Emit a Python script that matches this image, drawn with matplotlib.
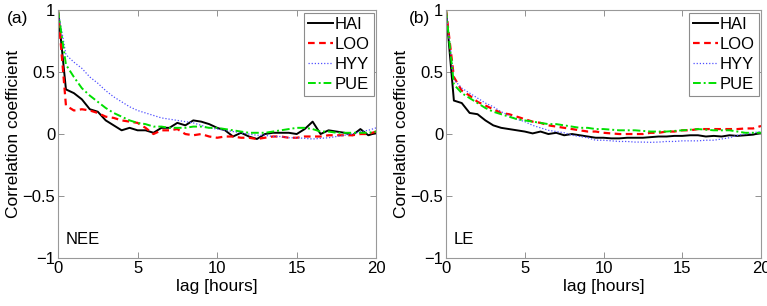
import matplotlib
matplotlib.use("Agg")
import matplotlib.pyplot as plt
import numpy as np

plt.rcParams['font.family'] = ['Liberation Sans', 'DejaVu Sans']
plt.rcParams['font.size'] = 12

# lag in hours (half-hourly)
lag = np.arange(0, 20.01, 0.5)
sites = ["HAI", "LOO", "HYY", "PUE"]

nee_hai = [1.00, 0.36, 0.33, 0.28, 0.20, 0.18, 0.11, 0.07, 0.03, 0.05, 0.03, 0.03, 0.01, 0.05,
           0.05, 0.09, 0.07, 0.11, 0.10, 0.08, 0.05, 0.03, -0.02, 0.01, -0.02, -0.04, 0.00, 0.01,
           0.01, 0.01, 0.00, 0.04, 0.10, 0.00, 0.03, 0.02, 0.01, -0.01, 0.04, -0.01, 0.01]
nee_loo = [1.00, 0.23, 0.19, 0.20, 0.19, 0.17, 0.14, 0.13, 0.11, 0.10, 0.09, 0.05, 0.00, 0.03,
           0.03, 0.04, 0.00, -0.01, 0.00, -0.02, -0.03, -0.02, -0.02, -0.03, -0.03, -0.04, -0.03,
           -0.02, -0.02, -0.03, -0.03, -0.02, -0.02, -0.02, -0.01, -0.01, -0.01, -0.01, 0.00,
           0.00, 0.02]
nee_hyy = [1.00, 0.64, 0.58, 0.53, 0.46, 0.41, 0.35, 0.30, 0.26, 0.22, 0.19, 0.17, 0.15, 0.13,
           0.12, 0.11, 0.10, 0.09, 0.07, 0.05, 0.04, 0.03, 0.02, 0.01, 0.00, -0.01, -0.01, -0.02,
           -0.02, -0.03, -0.03, -0.035, -0.04, -0.035, -0.03, -0.02, -0.01, 0.00, 0.02, 0.03, 0.05]
nee_pue = [1.00, 0.56, 0.46, 0.37, 0.31, 0.26, 0.21, 0.17, 0.14, 0.11, 0.09, 0.08, 0.06, 0.06,
           0.05, 0.05, 0.05, 0.06, 0.06, 0.05, 0.05, 0.04, 0.03, 0.02, 0.01, 0.01, 0.01, 0.02,
           0.03, 0.04, 0.05, 0.05, 0.04, 0.02, 0.02, 0.01, 0.01, 0.01, 0.01, 0.01, 0.02]

le_hai = [1.00, 0.27, 0.25, 0.17, 0.16, 0.11, 0.07, 0.05, 0.04, 0.03, 0.02, 0.005, 0.02, 0.00,
          0.01, -0.01, 0.00, -0.01, -0.02, -0.03, -0.03, -0.035, -0.035, -0.03, -0.03, -0.03,
          -0.025, -0.02, -0.02, -0.015, -0.015, -0.01, -0.01, -0.02, -0.015, -0.02, -0.01,
          -0.015, -0.01, -0.005, 0.01]
le_loo = [1.00, 0.46, 0.35, 0.31, 0.26, 0.23, 0.20, 0.17, 0.16, 0.14, 0.12, 0.10, 0.09, 0.07,
          0.06, 0.05, 0.04, 0.03, 0.02, 0.02, 0.01, 0.005, 0.00, 0.00, 0.00, 0.00, 0.01, 0.01,
          0.02, 0.02, 0.03, 0.03, 0.04, 0.04, 0.04, 0.04, 0.04, 0.04, 0.045, 0.045, 0.065]
le_hyy = [1.00, 0.44, 0.37, 0.33, 0.29, 0.25, 0.22, 0.18, 0.15, 0.12, 0.10, 0.07, 0.05, 0.03,
          0.02, 0.01, -0.01, -0.02, -0.03, -0.05, -0.05, -0.055, -0.06, -0.06, -0.065, -0.065,
          -0.067, -0.065, -0.06, -0.06, -0.055, -0.055, -0.055, -0.05, -0.05, -0.04, -0.03,
          -0.01, 0.00, 0.01, 0.02]
le_pue = [1.00, 0.40, 0.33, 0.29, 0.25, 0.21, 0.18, 0.16, 0.14, 0.12, 0.11, 0.10, 0.09, 0.08,
          0.08, 0.07, 0.06, 0.05, 0.05, 0.04, 0.04, 0.035, 0.03, 0.03, 0.03, 0.025, 0.02, 0.02,
          0.02, 0.025, 0.03, 0.035, 0.04, 0.035, 0.03, 0.03, 0.03, 0.02, 0.01, 0.01, 0.01]

styles = {
    "HAI": dict(color="black", linestyle="-", linewidth=1.4),
    "LOO": dict(color="#ff0000", linestyle=(0, (3, 2)), linewidth=1.6),
    "HYY": dict(color="#5050ff", linestyle=(0, (1, 1.5)), linewidth=0.9),
    "PUE": dict(color="#00e000", linestyle=(0, (4, 1.5, 1, 1.5)), linewidth=1.4),
}

fig = plt.figure(figsize=(7.67, 3.06), dpi=100)
ax_a = fig.add_axes([0.0756, 0.157, 0.415, 0.810])
ax_b = fig.add_axes([0.5815, 0.157, 0.4107, 0.810])

panels = [
    (ax_a, [nee_hai, nee_loo, nee_hyy, nee_pue], "NEE", "(a)", 0.009),
    (ax_b, [le_hai, le_loo, le_hyy, le_pue], "LE", "(b)", 0.533),
]

for ax, series, name, tag, tag_x in panels:
    for site, vals in zip(sites, series):
        ax.plot(lag, vals, label=site, **styles[site])
    ax.set_xlim(0, 20)
    ax.set_ylim(-1, 1)
    ax.set_xticks([0, 5, 10, 15, 20])
    ax.set_yticks([-1, -0.5, 0, 0.5, 1])
    ax.set_yticklabels(["\u22121", "\u22120.5", "0", "0.5", "1"])
    ax.tick_params(direction="in", top=True, right=True, length=4, width=0.6,
                   color="0.5", pad=2)
    for sp in ax.spines.values():
        sp.set_color("0.6")
        sp.set_linewidth(0.8)
    ax.set_xlabel("lag [hours]", fontsize=12.5, labelpad=2)
    ax.set_ylabel("Correlation coefficient", fontsize=12.5, labelpad=1)
    ax.text(0.5, -0.855, name, ha="left", va="center")
    fig.text(tag_x, 0.94, tag, ha="left", va="center", fontsize=12.5)
    leg = ax.legend(loc="upper right", borderaxespad=0.15, handlelength=1.5,
                    handletextpad=0.1, labelspacing=0.3, borderpad=0.25,
                    fancybox=False, framealpha=1)
    leg.get_frame().set_edgecolor("0.55")
    leg.get_frame().set_linewidth(0.8)

fig.savefig("out.png", dpi=100)
